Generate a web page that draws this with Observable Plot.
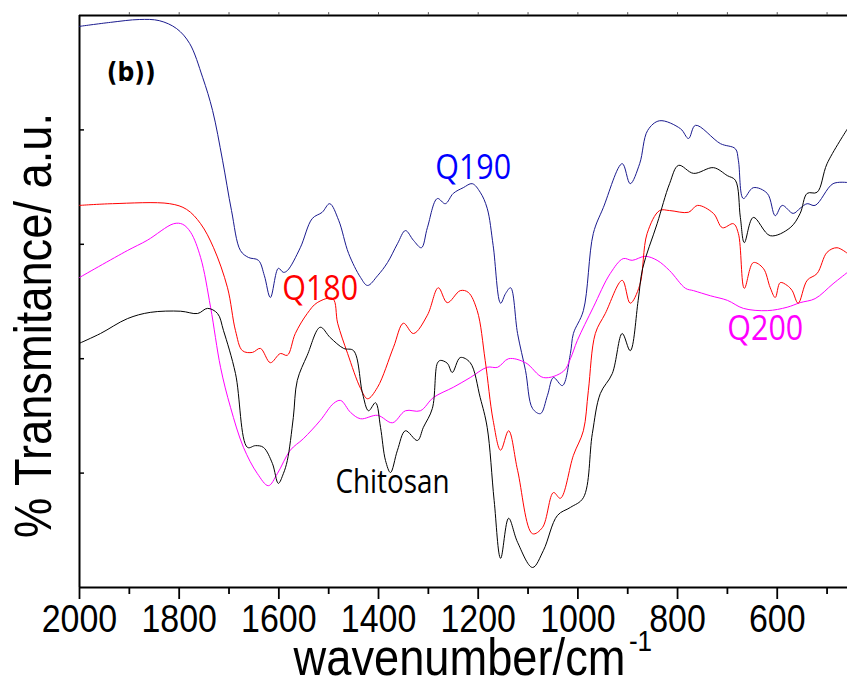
<!DOCTYPE html>
<html>
<head>
<meta charset="utf-8">
<script src="https://cdn.jsdelivr.net/npm/d3@7"></script>
<script src="https://cdn.jsdelivr.net/npm/@observablehq/plot@0.6"></script>
<style>
  html, body { margin: 0; padding: 0; background: #fff; }
  #chart svg { display: block; }
</style>
</head>
<body>
<div id="chart"></div>
<script>
// FTIR spectra: [wavenumber (cm^-1), transmittance (a.u.)]
const chitosan = [[2000,42.7],[1958,44.4],[1904,47.0],[1858,48.1],[1797,48.3],[1763,47.9],[1743,48.8],[1723,47.9],[1711,44.9],[1687,37.4],[1663,24.5],[1647,24.8],[1631,24.5],[1613,21.7],[1601,18.2],[1591,19.9],[1583,22.2],[1571,29.7],[1563,36.2],[1543,40.6],[1517,45.5],[1497,43.7],[1470,41.8],[1450,41.4],[1432,33.9],[1420,30.9],[1406,32.3],[1396,28.0],[1386,22.2],[1376,20.1],[1362,24.0],[1346,27.4],[1322,25.7],[1310,28.0],[1292,31.3],[1282,39.2],[1276,39.7],[1262,39.2],[1252,37.6],[1236,40.2],[1216,39.3],[1196,33.2],[1182,28.0],[1168,15.2],[1155,5.1],[1139,12.1],[1121,7.9],[1091,3.5],[1069,6.5],[1041,12.6],[1015,14.0],[989,15.7],[971,26.9],[955,33.9],[931,37.4],[911,44.4],[895,41.4],[879,50.2],[870,55.8],[841,63.6],[816,70.6],[798,73.8],[768,72.4],[728,73.4],[700,72.0],[684,71.2],[674,64.7],[666,60.3],[648,64.7],[614,61.5],[574,62.9],[554,65.4],[540,68.9],[520,69.1],[500,74.1],[459,80.2]];

const q180 = [[2000,66.8],[1934,67.1],[1819,67.1],[1785,66.1],[1757,63.6],[1731,59.4],[1703,52.4],[1687,44.9],[1673,41.4],[1653,41.1],[1637,41.8],[1617,39.3],[1597,40.9],[1583,40.6],[1567,44.4],[1543,47.9],[1523,49.8],[1492,50.5],[1482,46.2],[1462,40.9],[1436,34.8],[1422,33.0],[1402,35.0],[1370,42.0],[1350,46.2],[1330,44.4],[1302,47.6],[1280,52.4],[1262,49.8],[1236,51.9],[1220,51.6],[1202,48.4],[1186,39.7],[1170,29.2],[1155,24.0],[1139,27.4],[1121,20.5],[1091,9.4],[1071,10.5],[1049,16.6],[1035,15.6],[1009,23.1],[989,27.4],[979,34.4],[965,44.4],[945,47.9],[911,53.7],[895,49.7],[876,52.8],[861,61.9],[836,65.9],[816,65.9],[778,65.6],[760,66.8],[728,65.4],[710,62.9],[688,63.6],[678,61.9],[666,52.3],[648,56.8],[628,55.8],[614,52.4],[604,50.7],[594,53.3],[580,52.8],[570,51.9],[558,49.7],[540,53.7],[520,54.9],[500,58.6],[480,59.4],[459,58.4]];

const q190 = [[2000,98.1],[1938,98.8],[1880,99.3],[1840,99.1],[1805,97.7],[1779,95.1],[1753,89.2],[1733,83.4],[1713,74.7],[1695,65.9],[1677,58.9],[1661,57.7],[1641,57.2],[1629,54.5],[1617,50.7],[1601,55.8],[1591,55.1],[1583,55.4],[1557,59.4],[1533,64.5],[1513,65.6],[1498,67.1],[1480,64.2],[1460,58.4],[1436,54.2],[1422,52.8],[1402,54.5],[1382,56.8],[1362,60.1],[1346,62.4],[1330,60.7],[1314,59.4],[1302,62.9],[1282,68.0],[1266,67.1],[1250,68.9],[1230,69.9],[1212,70.6],[1196,69.1],[1182,66.3],[1170,59.8],[1155,49.7],[1145,51.4],[1135,52.4],[1121,44.4],[1105,37.9],[1091,31.3],[1075,30.4],[1061,33.6],[1049,36.7],[1031,35.3],[1015,40.9],[1009,44.4],[989,48.4],[969,61.9],[949,66.4],[911,74.1],[895,70.6],[876,74.1],[860,79.9],[836,81.6],[794,80.2],[778,78.5],[764,80.8],[714,77.6],[684,76.7],[678,74.7],[668,68.0],[648,69.9],[620,68.9],[604,65.0],[590,66.8],[568,65.4],[554,66.3],[540,67.1],[524,66.8],[488,70.6],[459,70.8]];

const q200 = [[2000,54.2],[1904,58.9],[1864,60.7],[1811,63.6],[1793,63.5],[1777,62.1],[1757,57.7],[1737,49.0],[1717,38.5],[1697,31.5],[1671,24.5],[1643,19.9],[1621,17.8],[1603,19.9],[1577,24.0],[1551,26.0],[1517,29.2],[1490,32.2],[1476,32.7],[1456,30.6],[1436,29.5],[1402,30.1],[1372,28.8],[1346,30.9],[1316,30.9],[1290,33.2],[1250,35.0],[1216,36.7],[1182,38.5],[1161,38.5],[1139,40.0],[1105,39.3],[1069,36.7],[1029,37.8],[1015,40.0],[1001,43.2],[969,49.0],[935,54.9],[909,57.5],[891,57.2],[865,57.9],[841,57.2],[816,55.4],[784,52.3],[768,51.9],[734,51.0],[700,50.2],[668,48.8],[620,48.4],[580,49.0],[554,49.8],[524,50.5],[488,53.1],[459,55.1]];

const majorTicks = [2000, 1800, 1600, 1400, 1200, 1000, 800, 600];
const minorTicks = [1900, 1700, 1500, 1300, 1100, 900, 700, 500];
const topTicks = [1900, 1800, 1700, 1600, 1500, 1400, 1300, 1200, 1100, 1000, 900, 800, 700, 600, 500];
const yTicks = [20, 40, 60, 80];

const seriesLabels = [
  {w: 1210, v: 73.3, text: "Q190", color: "#0000ff"},
  {w: 1517, v: 52.3, text: "Q180", color: "#ff0000"},
  {w: 624,  v: 45.3, text: "Q200", color: "#ff00ff"}
];
const sampleLabel = [{w: 1372, v: 18.4, text: "Chitosan"}];
const panelLabel = [{w: 1896, v: 90.0, text: "(b))"}];

const toRows = (pairs) => pairs.map(([w, v]) => ({w, v}));
const axisFont = "'Liberation Sans', Arial, sans-serif";
const noteFont = "'Open Sans', sans-serif";
const lineOpts = {x: "w", y: "v", strokeWidth: 1, curve: "catmull-rom"};

const chart = Plot.plot({
  width: 847,
  height: 682,
  marginLeft: 79,
  marginRight: 0,
  marginTop: 15,
  marginBottom: 95,
  style: {background: "#fff", fontFamily: axisFont, overflow: "visible"},
  x: {domain: [2000, 459], axis: null},
  y: {domain: [0, 100], axis: null},
  marks: [
    // frame: left, top and bottom edges
    Plot.ruleX([2000], {stroke: "#000", strokeWidth: 2}),
    Plot.ruleY([0, 100], {stroke: "#000", strokeWidth: 2}),
    // inward ticks on the y axis
    Plot.ruleY(yTicks, {x1: 2000, x2: 1990, stroke: "#000", strokeWidth: 1.5}),
    // small ticks on the top edge
    Plot.ruleX(topTicks, {y1: 100, y2: 100.5, stroke: "#555", strokeWidth: 1}),
    // bottom axis
    Plot.axisX(minorTicks, {tickSize: 7, tickFormat: () => "", label: null, strokeWidth: 1.8}),
    Plot.axisX(majorTicks, {tickSize: 12, tickPadding: 5, strokeWidth: 1.8, label: null,
      tickFormat: d3.format("d"), fontSize: 39, fill: "#000"}),
    // spectra
    Plot.line(toRows(q190), {...lineOpts, stroke: "#1a1a8e"}),
    Plot.line(toRows(q200), {...lineOpts, stroke: "#ff00ff"}),
    Plot.line(toRows(q180), {...lineOpts, stroke: "#ff0000"}),
    Plot.line(toRows(chitosan), {...lineOpts, stroke: "#000"}),
    // annotations
    Plot.text(seriesLabels, {x: "w", y: "v", text: "text", fill: "color",
      fontSize: 35, fontFamily: noteFont}),
    Plot.text(sampleLabel, {x: "w", y: "v", text: "text", fill: "#000",
      fontSize: 32, fontFamily: noteFont}),
    Plot.text(panelLabel, {x: "w", y: "v", text: "text", fill: "#000",
      fontSize: 27, fontWeight: "bold", fontFamily: "'DejaVu Sans', sans-serif"}),
    // axis titles
    Plot.text(["wavenumber/cm"], {frameAnchor: "bottom", textAnchor: "middle",
      lineAnchor: "bottom", dy: 87, dx: -4, text: d => d, fontSize: 52, fill: "#000"}),
    Plot.text(["-1"], {frameAnchor: "bottom", textAnchor: "middle",
      lineAnchor: "middle", dx: 177, dy: 54, text: d => d, fontSize: 30, fill: "#000"}),
    Plot.text(["% Transmitance/ a.u."], {frameAnchor: "left", textAnchor: "middle",
      lineAnchor: "middle", dx: -45, dy: 24, rotate: -90, text: d => d,
      fontSize: 52, fill: "#000"})
  ]
});

document.getElementById("chart").appendChild(chart);

// the typeface used throughout is set narrow
chart.querySelectorAll("text").forEach((t) => {
  if (!t.textContent.trim()) return;
  const len = t.getComputedTextLength();
  t.setAttribute("textLength", (len * 0.87).toFixed(1));
  t.setAttribute("lengthAdjust", "spacingAndGlyphs");
});
</script>
</body>
</html>
